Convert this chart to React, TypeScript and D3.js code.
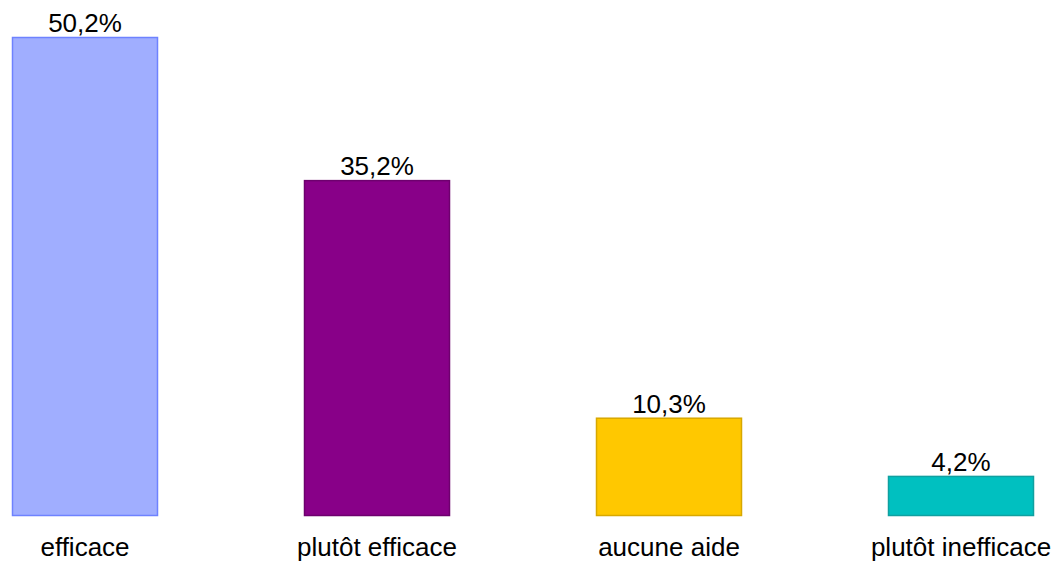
import React from "react";
import * as d3 from "d3";

const categories = ["efficace", "plutôt efficace", "aucune aide", "plutôt inefficace"];
const values = [50.2, 35.2, 10.3, 4.2];
const fills = ["#A0AEFF", "#880088", "#FFC800", "#00C0C0"];
const strokes = ["#6E82FF", "#6E006E", "#D8A800", "#10A0A0"];

const W = 1062;
const H = 562;

export default function App() {
  const x = d3
    .scaleBand<string>()
    .domain(categories)
    .range([-61, 1107])
    .paddingInner(0.5)
    .paddingOuter(0.25);
  const y = d3.scaleLinear().domain([0, 50.2]).range([516, 37]);
  const fmt = (v: number) => v.toFixed(1).replace(".", ",") + "%";
  return (
    <svg
      width={W}
      height={H}
      style={{ position: "absolute", left: 0, top: 0, background: "#fff" }}
      fontFamily="'Liberation Sans', Arial, sans-serif"
    >
      {categories.map((c, i) => {
        const bx = x(c)!;
        const bw = x.bandwidth();
        const top = y(values[i]);
        return (
          <g key={c}>
            <rect
              x={bx + 0.5}
              y={top + 0.5}
              width={bw - 1}
              height={y(0) - top - 1}
              fill={fills[i]}
              stroke={strokes[i]}
              strokeWidth={1.5}
            />
            <text x={bx + bw / 2} y={top - 5} textAnchor="middle" fontSize={26} fill="#000">
              {fmt(values[i])}
            </text>
            <text x={bx + bw / 2} y={556} textAnchor="middle" fontSize={26} fill="#000">
              {c}
            </text>
          </g>
        );
      })}
    </svg>
  );
}
